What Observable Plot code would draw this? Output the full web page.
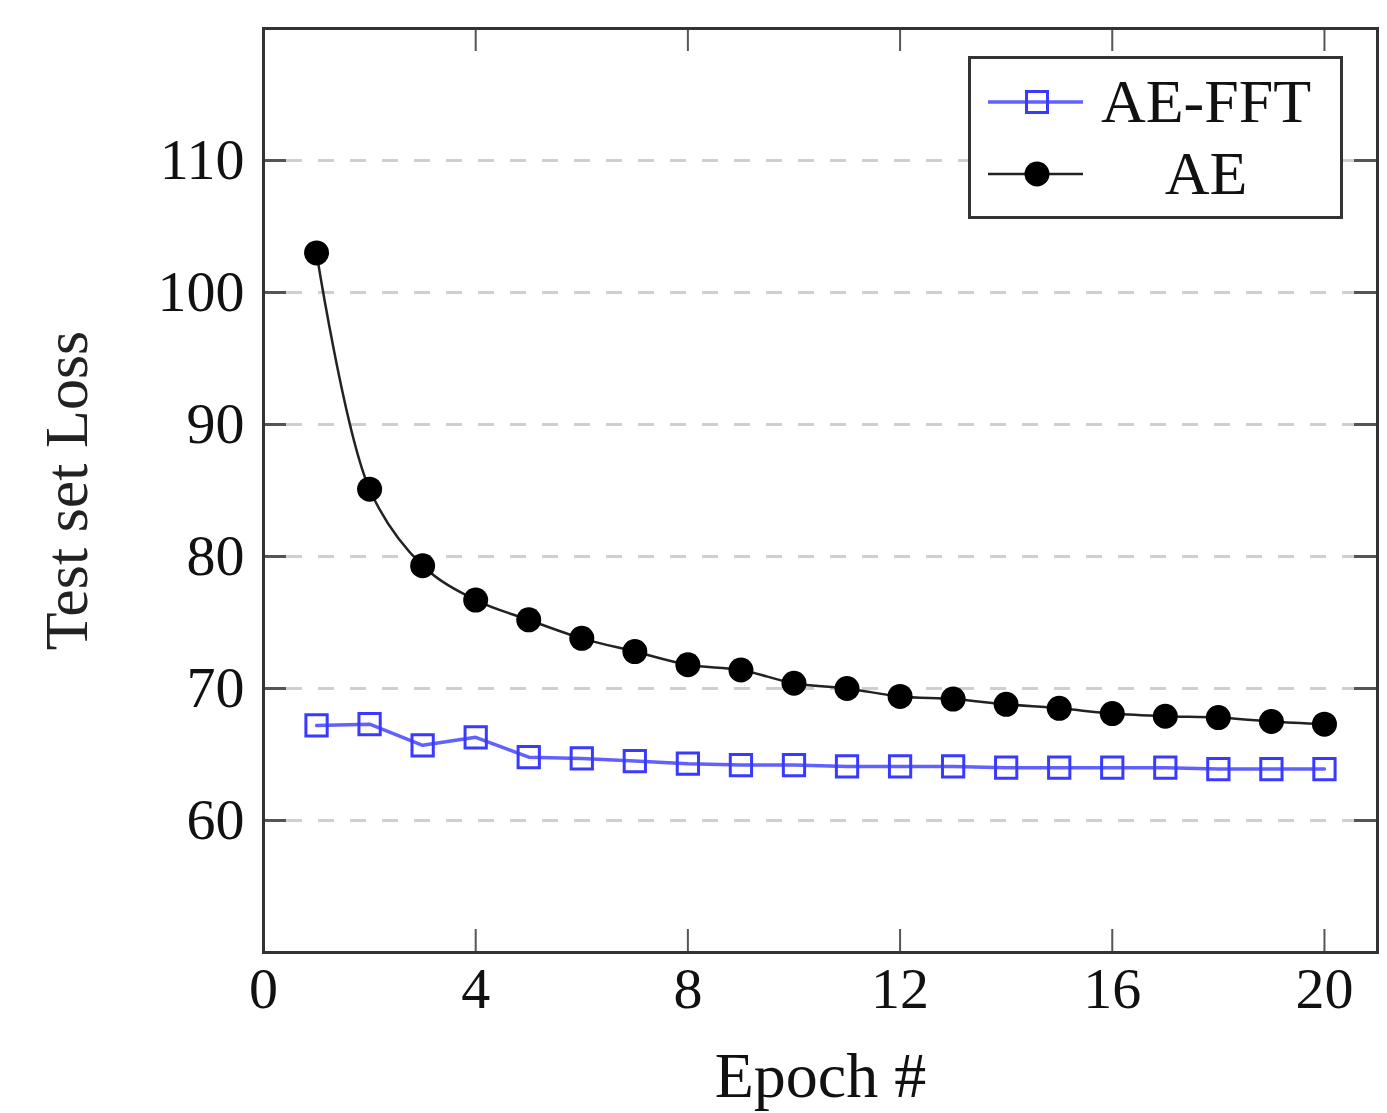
<!DOCTYPE html>
<html>
<head>
<meta charset="utf-8">
<script src="https://cdn.jsdelivr.net/npm/d3@7"></script>
<script src="https://cdn.jsdelivr.net/npm/@observablehq/plot@0.6"></script>
<style>
  body { margin: 0; background: #fff; }
  #wrap { position: relative; width: 1387px; height: 1113px; }
  #legend { position: absolute; left: 968px; top: 56px; }
</style>
</head>
<body>
<div id="wrap"></div>
<script>
const epochs = [1, 2, 3, 4, 5, 6, 7, 8, 9, 10, 11, 12, 13, 14, 15, 16, 17, 18, 19, 20];
const aeLoss = [103.0, 85.1, 79.3, 76.7, 75.2, 73.8, 72.8, 71.8, 71.4, 70.4, 70.0, 69.4, 69.2, 68.8, 68.5, 68.1, 67.9, 67.8, 67.5, 67.3];
const fftLoss = [67.2, 67.3, 65.7, 66.3, 64.8, 64.7, 64.5, 64.3, 64.2, 64.2, 64.1, 64.1, 64.1, 64.0, 64.0, 64.0, 64.0, 63.9, 63.9, 63.9];
const seriesNames = ["AE-FFT", "AE"];
const xTicks = [0, 4, 8, 12, 16, 20];
const yTicks = [60, 70, 80, 90, 100, 110];
const xLabel = "Epoch #";
const yLabel = "Test set Loss";

const blue = "#3a3aff";
const black = "#000";
const font = "'Liberation Serif', 'DejaVu Serif', serif";

const fft = epochs.map((e, i) => ({epoch: e, loss: fftLoss[i]}));
const ae = epochs.map((e, i) => ({epoch: e, loss: aeLoss[i]}));

const W = 1387, H = 1113, mL = 263, mR = 10, mT = 28, mB = 161;
const fw = W - mL - mR, fh = H - mT - mB, tk = 23;

const chart = Plot.plot({
  width: W, height: H,
  marginLeft: mL, marginRight: mR, marginTop: mT, marginBottom: mB,
  style: {fontFamily: font, fontSize: "58px", color: "#111", background: "#fff"},
  x: {domain: [0, 21], ticks: xTicks},
  y: {domain: [50, 120], ticks: yTicks},
  marks: [
    Plot.gridY(yTicks, {stroke: "#cfcfcf", strokeOpacity: 1, strokeWidth: 3, strokeDasharray: "16,16", insetLeft: tk, insetRight: tk}),
    Plot.ruleX(xTicks, {stroke: "#555", strokeWidth: 2, insetTop: fh - tk}),
    Plot.ruleX(xTicks, {stroke: "#555", strokeWidth: 2, insetBottom: fh - tk}),
    Plot.ruleY(yTicks, {stroke: "#555", strokeWidth: 3, insetRight: fw - tk}),
    Plot.ruleY(yTicks, {stroke: "#555", strokeWidth: 3, insetLeft: fw - tk}),
    Plot.axisX(xTicks, {tickSize: 0, tickPadding: 14, label: null, fontSize: 58, fill: "#111"}),
    Plot.axisY(yTicks, {tickSize: 0, tickPadding: 19, label: null, fontSize: 58, fill: "#111"}),
    Plot.frame({stroke: "#333", strokeWidth: 3}),
    Plot.line(fft, {x: "epoch", y: "loss", stroke: blue, strokeWidth: 3.5, strokeOpacity: 0.8}),
    Plot.dot(fft, {x: "epoch", y: "loss", symbol: "square", r: 12, stroke: blue, strokeWidth: 3, fill: "none"}),
    Plot.line(ae, {x: "epoch", y: "loss", stroke: "#222", strokeWidth: 2.5, curve: "catmull-rom"}),
    Plot.dot(ae, {x: "epoch", y: "loss", r: 12.5, fill: black, stroke: "none"}),
    Plot.text([xLabel], {text: d => d, frameAnchor: "bottom", dy: 144, fontSize: 64, fill: "#111"}),
    Plot.text([yLabel], {text: d => d, frameAnchor: "left", textAnchor: "middle", lineAnchor: "middle", dx: -196, rotate: -90, fontSize: 62, fill: "#222"})
  ]
});

const wrap = document.getElementById("wrap");
wrap.appendChild(chart);

// Legend
const lw = 375, lh = 163;
const leg = d3.select(wrap).append("svg").attr("id", "legend")
  .attr("width", lw).attr("height", lh)
  .style("font-family", font);
leg.append("rect").attr("x", 1.5).attr("y", 1.5).attr("width", lw - 3).attr("height", lh - 3)
  .attr("fill", "#fff").attr("stroke", "#333").attr("stroke-width", 3);
const rows = [
  {name: seriesNames[0], color: blue, sym: "square", cy: 46},
  {name: seriesNames[1], color: "#222", sym: "circle", cy: 118}
];
rows.forEach(r => {
  leg.append("line").attr("x1", 20).attr("x2", 115).attr("y1", r.cy).attr("y2", r.cy)
    .attr("stroke", r.color).attr("stroke-width", r.sym === "square" ? 3.5 : 2.5)
    .attr("stroke-opacity", r.sym === "square" ? 0.8 : 1);
  if (r.sym === "square") {
    leg.append("rect").attr("x", 69 - 10.5).attr("y", r.cy - 10.5).attr("width", 21).attr("height", 21)
      .attr("fill", "none").attr("stroke", blue).attr("stroke-width", 3);
  } else {
    leg.append("circle").attr("cx", 69).attr("cy", r.cy).attr("r", 12.5).attr("fill", "#000");
  }
  leg.append("text").attr("x", 238).attr("y", r.cy + 20).attr("text-anchor", "middle")
    .attr("font-size", 62).attr("fill", "#111").text(r.name);
});
</script>
</body>
</html>
